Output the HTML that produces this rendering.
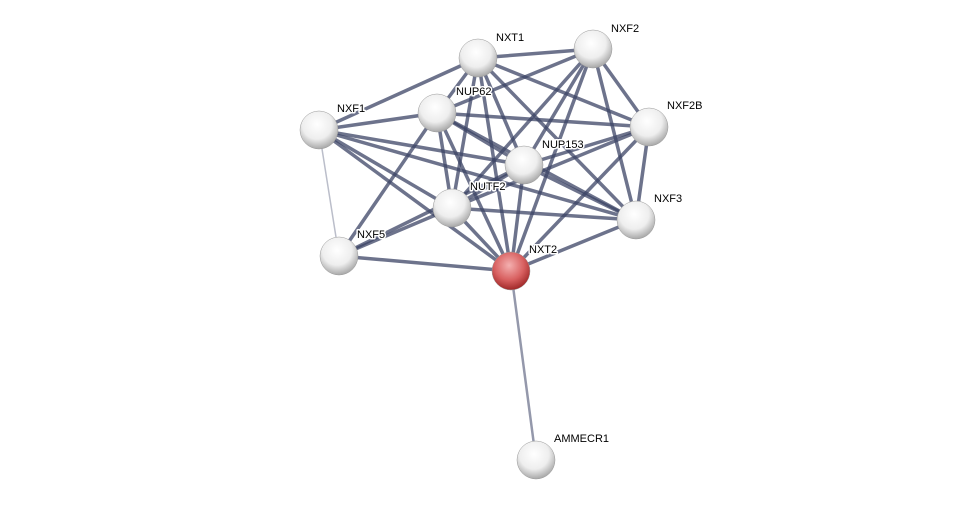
<!DOCTYPE html>
<html><head><meta charset="utf-8"><style>
html,body{margin:0;padding:0;background:#fff;}
svg{display:block;font-family:"Liberation Sans",Arial,sans-serif;}
</style></head><body>
<svg width="975" height="505" viewBox="0 0 975 505">
<defs>
<radialGradient id="g" cx="45%" cy="35%" r="65%">
<stop offset="0" stop-color="#ffffff"/><stop offset="0.6" stop-color="#eeeeee"/><stop offset="1" stop-color="#a8a8a8"/>
</radialGradient>
<radialGradient id="r" cx="45%" cy="35%" r="65%">
<stop offset="0" stop-color="#f4b0b0"/><stop offset="0.6" stop-color="#d86060"/><stop offset="1" stop-color="#a02828"/>
</radialGradient>
</defs>
<g stroke="#3c4466" stroke-linecap="round" fill="none">
<g stroke-opacity="0.75" stroke-width="3.5">
<line x1="478" y1="58" x2="593" y2="49"/><line x1="478" y1="58" x2="437" y2="113"/><line x1="478" y1="58" x2="319" y2="130"/><line x1="478" y1="58" x2="649" y2="127"/><line x1="478" y1="58" x2="524" y2="165"/><line x1="478" y1="58" x2="452" y2="208"/><line x1="478" y1="58" x2="636" y2="220"/><line x1="478" y1="58" x2="511" y2="271"/>
<line x1="593" y1="49" x2="437" y2="113"/><line x1="593" y1="49" x2="649" y2="127"/><line x1="593" y1="49" x2="524" y2="165"/><line x1="593" y1="49" x2="452" y2="208"/><line x1="593" y1="49" x2="636" y2="220"/><line x1="593" y1="49" x2="511" y2="271"/>
<line x1="437" y1="113" x2="319" y2="130"/><line x1="437" y1="113" x2="649" y2="127"/><line x1="437" y1="113" x2="524" y2="165"/><line x1="437" y1="113" x2="452" y2="208"/><line x1="437" y1="113" x2="339" y2="256"/><line x1="437" y1="113" x2="511" y2="271"/><line x1="437" y1="113" x2="636" y2="220"/>
<line x1="319" y1="130" x2="524" y2="165"/><line x1="319" y1="130" x2="452" y2="208"/><line x1="319" y1="130" x2="511" y2="271"/><line x1="319" y1="130" x2="636" y2="220"/>
<line x1="649" y1="127" x2="524" y2="165"/><line x1="649" y1="127" x2="452" y2="208"/><line x1="649" y1="127" x2="636" y2="220"/><line x1="649" y1="127" x2="511" y2="271"/>
<line x1="524" y1="165" x2="452" y2="208"/><line x1="524" y1="165" x2="636" y2="220"/><line x1="524" y1="165" x2="511" y2="271"/><line x1="524" y1="165" x2="339" y2="256"/>
<line x1="452" y1="208" x2="339" y2="256"/><line x1="452" y1="208" x2="511" y2="271"/><line x1="452" y1="208" x2="636" y2="220"/>
<line x1="636" y1="220" x2="511" y2="271"/><line x1="339" y1="256" x2="511" y2="271"/>
</g>
<line x1="319" y1="130" x2="339" y2="256" stroke-opacity="0.35" stroke-width="1.5"/>
<line x1="511" y1="271" x2="536" y2="460" stroke-opacity="0.55" stroke-width="2.5"/>
</g>
<g stroke="#999" stroke-width="0.5">
<circle cx="478" cy="58" r="19" fill="url(#g)"/>
<circle cx="593" cy="49" r="19" fill="url(#g)"/>
<circle cx="437" cy="113" r="19" fill="url(#g)"/>
<circle cx="319" cy="130" r="19" fill="url(#g)"/>
<circle cx="649" cy="127" r="19" fill="url(#g)"/>
<circle cx="524" cy="165" r="19" fill="url(#g)"/>
<circle cx="452" cy="208" r="19" fill="url(#g)"/>
<circle cx="636" cy="220" r="19" fill="url(#g)"/>
<circle cx="339" cy="256" r="19" fill="url(#g)"/>
<circle cx="511" cy="271" r="19" fill="url(#r)"/>
<circle cx="536" cy="460" r="19" fill="url(#g)"/>
</g>
<g font-size="11" fill="#000" stroke="#fff" stroke-width="3" paint-order="stroke" stroke-linejoin="round">
<text x="496" y="41">NXT1</text>
<text x="611" y="32">NXF2</text>
<text x="456" y="95">NUP62</text>
<text x="337" y="112">NXF1</text>
<text x="667" y="109">NXF2B</text>
<text x="542" y="148">NUP153</text>
<text x="470" y="190">NUTF2</text>
<text x="654" y="202">NXF3</text>
<text x="357" y="238">NXF5</text>
<text x="529" y="253">NXT2</text>
<text x="554" y="442">AMMECR1</text>
</g>
</svg>
</body></html>
